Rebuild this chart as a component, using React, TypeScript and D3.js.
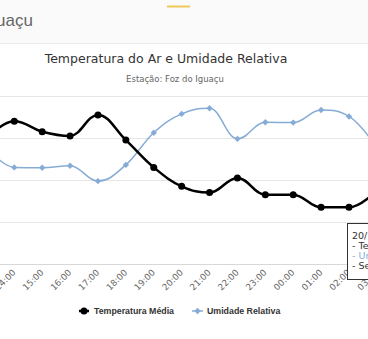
import React from "react";
import * as d3 from "d3";

const categories = ["13:00","14:00","15:00","16:00","17:00","18:00","19:00","20:00","21:00","22:00","23:00","00:00","01:00","02:00","03:00"];
const temperatura = [24.0,24.8,24.3,24.1,25.1,23.9,22.6,21.7,21.4,22.1,21.3,21.3,20.7,20.7,21.5];
const umidade = [81.8,74.5,74.4,75.1,69.6,75.4,86.9,93.6,95.6,84.7,90.6,90.5,95.0,92.7,81.6];
const tempTicks = [18,20,22,24,26];
const tooltipLines = ["20/11/2019 02:00", "- Temperatura Média: 20.7 °C", "- Umidade Relativa: 92.7 %", "- Sensação Térmica: 20.7 °C"];
const legendNames = ["Temperatura Média", "Umidade Relativa"];

const W = 368, H = 339;
const FONT = "'DejaVu Sans', Verdana, sans-serif";
const BLUE = "#86acd6";

function hcSpline(pts: [number, number][]) {
  const p = d3.path();
  const conts: { lx: number; ly: number; rx: number; ry: number }[] = [];
  const sm = 1.5, den = 2.5;
  pts.forEach(([x, y], i) => {
    if (i > 0 && i < pts.length - 1) {
      const [lx0, ly0] = pts[i - 1];
      const [nx, ny] = pts[i + 1];
      let lcx = (sm * x + lx0) / den, lcy = (sm * y + ly0) / den;
      let rcx = (sm * x + nx) / den, rcy = (sm * y + ny) / den;
      let corr = 0;
      if (rcx !== lcx) corr = ((rcy - lcy) * (rcx - x)) / (rcx - lcx) + y - rcy;
      lcy += corr; rcy += corr;
      if (lcy > ly0 && lcy > y) { lcy = Math.max(ly0, y); rcy = 2 * y - lcy; }
      else if (lcy < ly0 && lcy < y) { lcy = Math.min(ly0, y); rcy = 2 * y - lcy; }
      if (rcy > ny && rcy > y) { rcy = Math.max(ny, y); lcy = 2 * y - rcy; }
      else if (rcy < ny && rcy < y) { rcy = Math.min(ny, y); lcy = 2 * y - rcy; }
      conts[i] = { lx: lcx, ly: lcy, rx: rcx, ry: rcy };
    } else conts[i] = { lx: x, ly: y, rx: x, ry: y };
  });
  pts.forEach(([x, y], i) => {
    if (i === 0) p.moveTo(x, y);
    else p.bezierCurveTo(conts[i - 1].rx, conts[i - 1].ry, conts[i].lx, conts[i].ly, x, y);
  });
  return p.toString();
}

export default function App() {
  const x = d3.scaleLinear().domain([1, 13]).range([14.3, 349]);
  const yT = d3.scaleLinear().domain([18, 26]).range([264, 96]);
  const yH = d3.scaleLinear().domain([40, 100]).range([264, 96]);
  const tPts = temperatura.map((v, i) => [x(i), yT(v)] as [number, number]);
  const hPts = umidade.map((v, i) => [x(i), yH(v)] as [number, number]);
  const diamond = (cx: number, cy: number, r: number) => `M${cx},${cy - r}L${cx + r},${cy}L${cx},${cy + r}L${cx - r},${cy}Z`;

  return (
    <div style={{ position: "absolute", left: 0, top: 0 }}>
      <svg width={W} height={H} style={{ display: "block", fontFamily: FONT }}>
        <rect x={0} y={0} width={W} height={H} fill="#fff" />
        <rect x={0} y={0} width={W} height={43} fill="#fafafa" />
        <line x1={0} x2={W} y1={43.5} y2={43.5} stroke="#ececec" />
        <line x1={167} x2={190} y1={6.5} y2={6.5} stroke="#f0c85a" strokeWidth={2} />
        <text x={33} y={26} textAnchor="end" fontSize={17} fill="#666" fontFamily="'Liberation Sans', Arial, sans-serif">Foz do Iguaçu</text>
        <text x={166} y={63} textAnchor="middle" fontSize={12.5} fill="#333">Temperatura do Ar e Umidade Relativa</text>
        <text x={175} y={82} textAnchor="middle" fontSize={8.5} fill="#666">Estação: Foz do Iguaçu</text>
        {tempTicks.map((t, i) => (
          <line key={i} x1={0} x2={W} y1={Math.round(yT(t)) + 0.5} y2={Math.round(yT(t)) + 0.5}
            stroke={i === 0 ? "#d8d8d8" : "#e6e6e6"} strokeWidth={1} />
        ))}
        <path d={hcSpline(hPts)} fill="none" stroke={BLUE} strokeWidth={1.5} />
        {hPts.map(([cx, cy], i) => (
          <path key={i} d={diamond(cx, cy, 3.2)} fill={BLUE} />
        ))}
        <path d={hcSpline(tPts)} fill="none" stroke="#000" strokeWidth={2.5} />
        {tPts.map(([cx, cy], i) => (
          <circle key={i} cx={cx} cy={cy} r={3.5} fill="#000" />
        ))}
        {categories.map((c, i) => (
          <text key={c} transform={`translate(${x(i) + 2},${273}) rotate(-45)`} textAnchor="end"
            fontSize={8.8} fill="#666">{c}</text>
        ))}
        <g fontFamily="'Liberation Sans', Arial, sans-serif" fontSize={8.8} fontWeight="bold" fill="#333">
          <line x1={79} x2={89} y1={311} y2={311} stroke="#000" strokeWidth={2.5} />
          <circle cx={84} cy={311} r={3.5} fill="#000" />
          <text x={94} y={314.2}>{legendNames[0]}</text>
          <line x1={192} x2={203} y1={311} y2={311} stroke={BLUE} strokeWidth={1.5} />
          <path d={diamond(197.5, 311, 3.2)} fill={BLUE} />
          <text x={207} y={314.2}>{legendNames[1]}</text>
        </g>
        <g>
          <rect x={347.5} y={223.5} width={120} height={56} fill="#fff" fillOpacity={0.92} stroke="#333" strokeWidth={1} />
          {tooltipLines.map((t, i) => (
            <text key={i} x={352} y={239 + i * 10} fontSize={9.5} fill={i === 2 ? BLUE : "#333"}>{t}</text>
          ))}
        </g>
      </svg>
    </div>
  );
}
